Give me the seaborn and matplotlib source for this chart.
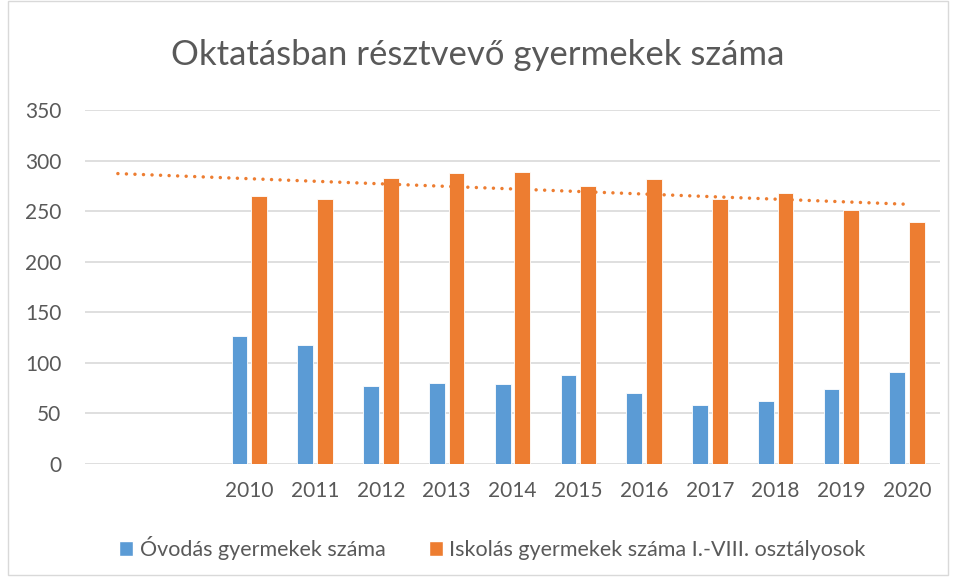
import numpy as np
import pandas as pd
import seaborn as sns
import matplotlib.pyplot as plt
from matplotlib.patches import Rectangle, Patch

# adatok - az elso ket kategoria ures
years = ["", "", "2010", "2011", "2012", "2013", "2014", "2015", "2016", "2017", "2018", "2019", "2020"]
ovodas = [np.nan, np.nan, 127, 118, 77, 80, 79, 88, 70, 58, 62, 74, 91]
iskolas = [np.nan, np.nan, 265, 262, 283, 288, 289, 275, 282, 262, 268, 251, 239]
series_names = ["Óvodás gyermekek száma", "Iskolás gyermekek száma I.-VIII. osztályosok"]
colors = ["#5B9BD5", "#ED7D31"]

cats = [f"c{i}" for i in range(len(years))]
df = pd.DataFrame({"cat": cats * 2,
                   "value": ovodas + iskolas,
                   "series": [series_names[0]] * len(cats) + [series_names[1]] * len(cats)})

sns.set_style("white")
plt.rcParams["font.family"] = ["Lato", "DejaVu Sans"]

fig = plt.figure(figsize=(9.56, 5.8), dpi=100)
ax = fig.add_axes([0.0889, 0.2, 0.8944, 0.6103])

sns.barplot(data=df, x="cat", y="value", hue="series", order=cats,
            palette=colors, saturation=1, width=0.6, gap=0.2, ax=ax,
            edgecolor="white", linewidth=0.6, legend=False)

# linearis trendvonal (Excel-szeru), 1..13 pozicion
x = np.arange(1, len(cats) + 1)
mask = ~np.isnan(iskolas)
coef = np.polyfit(x[mask], np.array(iskolas)[mask], 1)
ax.plot(x - 1, np.polyval(coef, x), color=colors[1], linestyle=(0, (0.01, 2.45)),
        linewidth=2.5, dash_capstyle="round", solid_capstyle="round", zorder=3)

ax.set_ylim(0, 350)
ax.set_xlim(-0.5, len(cats) - 0.5)
ax.set_yticks(range(0, 351, 50))
ax.set_xticks(range(len(cats)))
ax.set_xticklabels(years)
ax.yaxis.grid(True, color="#D9D9D9", linewidth=1.2)
ax.set_axisbelow(True)
for s in ax.spines.values():
    s.set_visible(False)
ax.tick_params(axis="both", length=0, labelsize=15, colors="#595959")
ax.tick_params(axis="y", pad=17)
ax.tick_params(axis="x", pad=12)
ax.set_xlabel("")
ax.set_ylabel("")

fig.text(0.5, 0.905, "Oktatásban résztvevő gyermekek száma", ha="center", va="center",
         fontsize=25, color="#595959")

handles = [Patch(facecolor=c) for c in colors]
fig.legend(handles, series_names, loc="center", bbox_to_anchor=(0.515, 0.055), ncol=2,
           frameon=False, fontsize=15.5, handlelength=0.65, handleheight=0.65,
           handletextpad=0.3, columnspacing=2.0, labelcolor="#595959")

fig.patches.append(Rectangle((0.008, 0.008), 0.984, 0.99, transform=fig.transFigure,
                             fill=False, edgecolor="#D9D9D9", linewidth=1))

plt.savefig("out.png", dpi=100)
